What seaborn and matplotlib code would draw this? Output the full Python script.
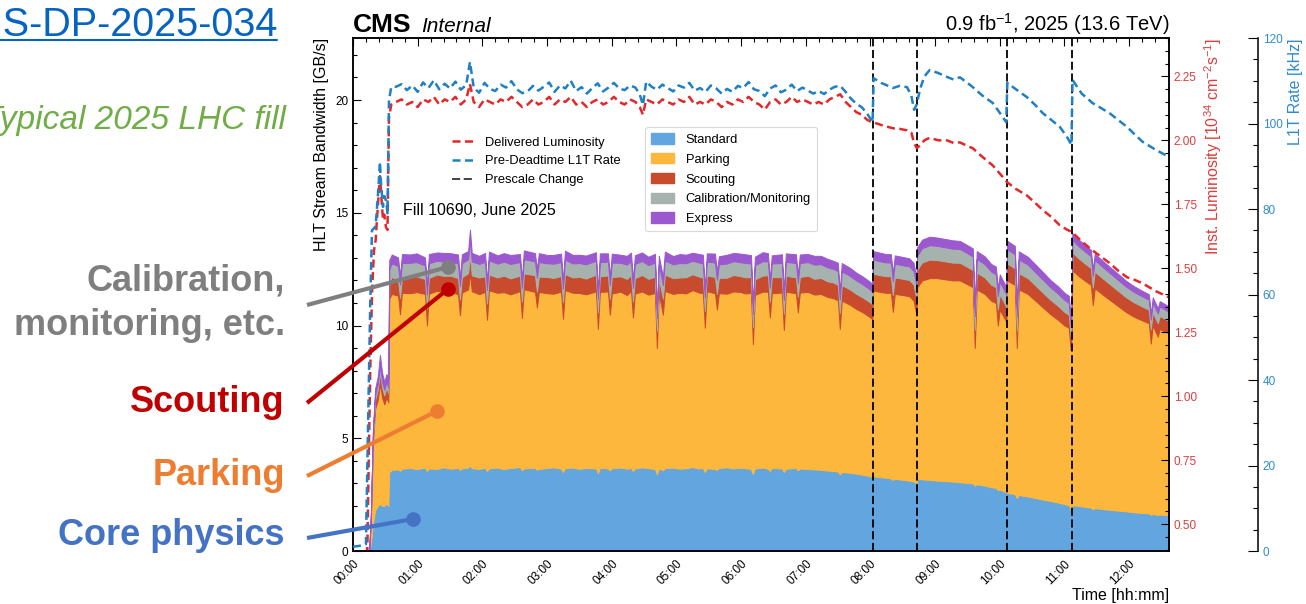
import numpy as np
import pandas as pd
import matplotlib
matplotlib.use("Agg")
import matplotlib.pyplot as plt
from matplotlib.lines import Line2D
from matplotlib.patches import Patch
from matplotlib.ticker import MultipleLocator, FormatStrFormatter
import seaborn as sns

# ---------------- data: HLT stream bandwidth per stream [GB/s] ----------------
# sample times in minutes since the start of the fill
stack_min = [
    0, 15, 16.5, 18.5, 20.5, 23, 25, 27, 29, 31, 32.8, 33.6, 36,
    41.8, 43.6, 45.4, 53, 59, 66.8, 68.6, 70.4, 78, 84,
    90, 97.4, 99.2, 101, 106.8, 108.5, 110.2, 117, 122.5, 124.3,
    126.1, 134, 140, 146, 154.9, 156.7, 158.5, 168.8, 170.6, 172.4,
    180, 186, 193, 194.8, 196.6, 204, 210, 216, 225.4, 227.2,
    229, 236.5, 238.3, 240.1, 248, 254, 257.9, 259.7, 261.5, 268,
    274, 280.1, 281.9, 283.7, 287.5, 289.3, 297, 303, 309, 315,
    321, 324.6, 326.4, 328.2, 335.8, 337.6, 339.4, 347, 353, 359,
    364, 369.2, 371, 372.8, 380, 384.9, 386.7, 388.5, 397.9, 399.7,
    401.5, 410.9, 412.7, 414.5, 422, 428, 434, 440, 446, 449.8,
    451.6, 453.4, 461, 467, 473, 479.5, 481.8,
    482.6, 488, 494, 499, 500.8, 502.6, 510, 516, 520, 522.8,
    523.4, 528, 535, 542, 549, 556, 563, 569, 575, 576.8, 578.6, 586, 592, 596.4, 598.2, 600, 606.2,
    606.8, 614, 615.8, 617.6, 626, 633, 640, 647, 654, 660, 664, 665.8, 666.7,
    667.3, 673, 680, 684.5, 686.3, 688.1, 696, 703, 710, 717, 724, 731, 738.3, 740.1, 741.9, 746.6, 748.4, 756.8,
]
standard = [
    0, 0, 0.3, 1.2, 1.8, 2.0, 2.1, 2.0, 2.0, 2.1, 2.0, 3.5, 3.6,
    3.62, 3.55, 3.65, 3.68, 3.63, 3.70, 3.55, 3.66, 3.64, 3.71,
    3.65, 3.68, 3.60, 3.66, 3.70, 3.80, 3.67, 3.64, 3.69, 3.55,
    3.66, 3.70, 3.63, 3.68, 3.72, 3.58, 3.66, 3.69, 3.60, 3.64,
    3.68, 3.71, 3.65, 3.50, 3.67, 3.70, 3.64, 3.68, 3.66, 3.45,
    3.69, 3.66, 3.58, 3.67, 3.70, 3.65, 3.68, 3.55, 3.66, 3.71,
    3.67, 3.64, 3.40, 3.66, 3.58, 3.68, 3.70, 3.65, 3.67, 3.72,
    3.66, 3.68, 3.50, 3.67, 3.63, 3.60, 3.68, 3.71, 3.66, 3.69,
    3.67, 3.64, 3.42, 3.66, 3.70, 3.65, 3.55, 3.68, 3.66, 3.50,
    3.65, 3.68, 3.58, 3.66, 3.64, 3.62, 3.60, 3.57, 3.55, 3.52,
    3.40, 3.50, 3.47, 3.43, 3.38, 3.32, 3.28,
    3.32, 3.28, 3.25, 3.22, 3.15, 3.20, 3.16, 3.12, 3.08, 3.02,
    3.20, 3.18, 3.15, 3.12, 3.10, 3.08, 3.05, 3.02, 3.00, 2.90, 2.96, 2.90, 2.83, 2.80, 2.70, 2.72, 2.60,
    2.58, 2.52, 2.35, 2.48, 2.42, 2.35, 2.28, 2.22, 2.15, 2.08, 2.03, 1.85, 1.95,
    2.03, 2.00, 1.95, 1.93, 1.85, 1.90, 1.86, 1.82, 1.79, 1.76, 1.72, 1.69, 1.67, 1.60, 1.64, 1.60, 1.62, 1.58,
]
parking = [
    0, 0, 1.0, 3.6, 4.5, 4.7, 5.3, 4.8, 4.5, 4.7, 4.6, 7.7, 7.8,
    7.70, 6.95, 7.80, 7.75, 7.85, 7.70, 6.45, 7.75, 7.90, 7.80,
    7.85, 7.70, 6.85, 7.80, 7.90, 8.50, 7.85, 7.75, 7.80, 6.70,
    7.90, 7.75, 7.85, 7.70, 7.80, 6.75, 7.95, 7.80, 7.20, 7.85,
    7.75, 7.70, 7.85, 6.80, 7.90, 7.75, 7.80, 7.70, 7.85, 6.40,
    7.80, 7.85, 6.90, 7.75, 7.80, 7.70, 7.85, 6.80, 7.75, 7.80,
    7.70, 7.80, 5.60, 7.75, 6.90, 7.85, 7.70, 7.80, 7.75, 7.85,
    7.80, 7.75, 6.40, 7.85, 7.80, 7.10, 7.75, 7.70, 7.85, 7.80,
    7.75, 7.80, 5.75, 7.70, 7.80, 7.85, 6.80, 7.75, 7.80, 6.30,
    7.85, 7.75, 7.00, 7.80, 7.85, 7.75, 7.80, 7.70, 7.65, 7.60,
    6.45, 7.60, 7.45, 7.30, 7.20, 7.05, 7.00,
    8.23, 8.22, 8.20, 8.23, 7.45, 8.20, 8.19, 8.18, 8.02, 7.43,
    8.50, 8.82, 8.95, 8.98, 8.95, 8.92, 8.95, 8.83, 8.70, 6.10, 8.64, 8.50, 8.27, 8.20, 7.30, 7.98, 7.55,
    9.42, 9.28, 6.65, 9.12, 8.98, 8.75, 8.52, 8.28, 8.10, 7.92, 7.87, 7.05, 7.55,
    10.42, 10.20, 10.00, 9.87, 9.05, 9.75, 9.49, 9.28, 9.06, 8.84, 8.68, 8.56, 8.43, 7.60, 8.36, 7.90, 8.23, 8.07,
]
scouting = [
    0, 0, 0.1, 0.3, 0.4, 0.45, 0.5, 0.45, 0.4, 0.45, 0.4, 0.7, 0.75,
    0.70, 0.72, 0.68, 0.74, 0.70, 0.66, 0.75, 0.70, 0.72, 0.69,
    0.71, 0.73, 0.70, 0.68, 0.72, 0.80, 0.70, 0.74, 0.69, 0.72,
    0.70, 0.68, 0.73, 0.71, 0.69, 0.72, 0.70, 0.74, 0.70, 0.68,
    0.72, 0.70, 0.69, 0.73, 0.71, 0.68, 0.72, 0.70, 0.74, 0.72,
    0.69, 0.71, 0.70, 0.73, 0.68, 0.72, 0.70, 0.71, 0.69, 0.73,
    0.70, 0.72, 0.75, 0.69, 0.71, 0.73, 0.70, 0.68, 0.72, 0.70,
    0.71, 0.69, 0.74, 0.70, 0.72, 0.70, 0.68, 0.71, 0.73, 0.70,
    0.72, 0.70, 0.76, 0.69, 0.71, 0.73, 0.70, 0.72, 0.68, 0.72,
    0.70, 0.71, 0.70, 0.69, 0.72, 0.70, 0.71, 0.69, 0.70, 0.68,
    0.70, 0.69, 0.68, 0.67, 0.66, 0.66, 0.65,
    0.75, 0.74, 0.74, 0.73, 0.75, 0.73, 0.72, 0.72, 0.72, 0.70,
    0.78, 0.80, 0.82, 0.80, 0.80, 0.79, 0.78, 0.77, 0.76, 0.80, 0.75, 0.73, 0.71, 0.70, 0.72, 0.68, 0.66,
    0.75, 0.74, 0.78, 0.72, 0.70, 0.68, 0.66, 0.64, 0.62, 0.60, 0.58, 0.62, 0.56,
    0.80, 0.78, 0.76, 0.75, 0.78, 0.74, 0.72, 0.70, 0.68, 0.66, 0.64, 0.62, 0.60, 0.62, 0.58, 0.60, 0.57, 0.55,
]
calibration = [
    0, 0, 0.05, 0.15, 0.2, 0.25, 0.3, 0.25, 0.25, 0.25, 0.25, 0.6, 0.6,
    0.62, 0.60, 0.64, 0.61, 0.63, 0.60, 0.62, 0.65, 0.61, 0.63,
    0.62, 0.64, 0.60, 0.63, 0.61, 0.70, 0.62, 0.60, 0.64, 0.61,
    0.63, 0.61, 0.62, 0.64, 0.60, 0.62, 0.63, 0.61, 0.62, 0.64,
    0.61, 0.63, 0.62, 0.60, 0.64, 0.62, 0.61, 0.63, 0.62, 0.60,
    0.63, 0.61, 0.62, 0.64, 0.60, 0.63, 0.62, 0.61, 0.63, 0.62,
    0.61, 0.63, 0.58, 0.62, 0.60, 0.63, 0.61, 0.64, 0.62, 0.60,
    0.62, 0.63, 0.60, 0.61, 0.64, 0.62, 0.60, 0.63, 0.61, 0.62,
    0.63, 0.61, 0.58, 0.62, 0.64, 0.61, 0.62, 0.60, 0.63, 0.61,
    0.62, 0.63, 0.61, 0.62, 0.60, 0.63, 0.61, 0.62, 0.60, 0.61,
    0.60, 0.61, 0.60, 0.59, 0.58, 0.57, 0.57,
    0.62, 0.62, 0.61, 0.61, 0.60, 0.61, 0.60, 0.60, 0.60, 0.58,
    0.62, 0.63, 0.64, 0.63, 0.62, 0.62, 0.61, 0.61, 0.60, 0.62, 0.60, 0.59, 0.58, 0.57, 0.58, 0.56, 0.55,
    0.63, 0.62, 0.62, 0.61, 0.60, 0.58, 0.57, 0.55, 0.54, 0.53, 0.52, 0.52, 0.50,
    0.55, 0.54, 0.53, 0.52, 0.52, 0.51, 0.50, 0.49, 0.48, 0.47, 0.46, 0.45, 0.44, 0.44, 0.43, 0.43, 0.42, 0.41,
]
express = [
    0, 0, 0.05, 0.2, 0.3, 0.35, 0.5, 0.4, 0.35, 0.35, 0.35, 0.4, 0.4,
    0.38, 0.36, 0.40, 0.37, 0.39, 0.36, 0.38, 0.41, 0.37, 0.39,
    0.38, 0.40, 0.36, 0.39, 0.37, 0.45, 0.38, 0.36, 0.40, 0.37,
    0.39, 0.37, 0.38, 0.40, 0.36, 0.38, 0.39, 0.37, 0.38, 0.40,
    0.37, 0.39, 0.38, 0.36, 0.40, 0.38, 0.37, 0.39, 0.38, 0.36,
    0.39, 0.37, 0.38, 0.40, 0.36, 0.39, 0.38, 0.37, 0.39, 0.38,
    0.37, 0.39, 0.35, 0.38, 0.36, 0.39, 0.37, 0.40, 0.38, 0.36,
    0.38, 0.39, 0.36, 0.37, 0.40, 0.38, 0.36, 0.39, 0.37, 0.38,
    0.39, 0.37, 0.35, 0.38, 0.40, 0.37, 0.38, 0.36, 0.39, 0.37,
    0.38, 0.39, 0.37, 0.38, 0.36, 0.39, 0.37, 0.38, 0.36, 0.37,
    0.36, 0.37, 0.36, 0.35, 0.35, 0.34, 0.34,
    0.38, 0.38, 0.37, 0.37, 0.36, 0.37, 0.37, 0.36, 0.36, 0.35,
    0.38, 0.38, 0.38, 0.37, 0.37, 0.37, 0.36, 0.36, 0.36, 0.38, 0.35, 0.35, 0.34, 0.34, 0.35, 0.33, 0.33,
    0.38, 0.37, 0.37, 0.36, 0.35, 0.35, 0.34, 0.33, 0.33, 0.32, 0.32, 0.32, 0.30,
    0.30, 0.30, 0.29, 0.29, 0.29, 0.28, 0.28, 0.27, 0.27, 0.26, 0.26, 0.25, 0.25, 0.25, 0.24, 0.24, 0.24, 0.24,
]

# ---------------- data: delivered luminosity and L1T rate ----------------
line_min = [
    0, 6, 12, 14, 16, 17.6, 19.5, 21, 23, 25, 26, 27.8, 29, 30.6, 32, 33.4, 35.5,
    40, 45, 50, 55, 60, 65, 70, 75, 80, 85,
    90, 95, 100, 105, 108.5, 112, 117, 122, 127, 132,
    137, 142, 147, 152, 157, 162, 167, 172, 177, 182,
    187, 192, 197, 202, 207, 212, 217, 222, 227, 232,
    237, 242, 247, 252, 257, 262, 266, 269, 272, 277,
    282, 287, 292, 297, 302, 307, 312, 317, 322, 327,
    332, 337, 342, 347, 352, 357, 362, 367, 372, 377,
    382, 387, 392, 397, 402, 407, 412, 417, 422, 427,
    432, 437, 442, 447, 452, 457, 462, 467, 472, 477,
    482, 483, 490, 501, 507, 514, 518, 520.5, 523, 526,
    530, 535, 543, 551, 557, 563, 569, 575, 584, 593.5,
    600, 606, 607, 615, 625, 633, 640, 648, 655.7, 662,
    666.5, 667.5, 676, 686, 694, 702, 710, 718, 725, 732.6,
    745, 756.8,
]
lumi = [  # 1e34 cm^-2 s^-1
    0.00, 0.00, 0.02, 0.60, 1.10, 1.40, 1.57, 1.61, 1.74, 1.86, 1.80, 1.69, 1.71, 1.66, 1.65, 2.09, 2.14,
    2.15, 2.16, 2.14, 2.15, 2.13, 2.16, 2.15, 2.17, 2.14, 2.16,
    2.15, 2.17, 2.14, 2.16, 2.22, 2.15, 2.13, 2.16, 2.15, 2.14,
    2.16, 2.15, 2.17, 2.15, 2.13, 2.14, 2.16, 2.14, 2.15, 2.17,
    2.14, 2.16, 2.15, 2.17, 2.14, 2.15, 2.13, 2.15, 2.16, 2.14,
    2.15, 2.17, 2.15, 2.14, 2.16, 2.15, 2.13, 2.10, 2.16, 2.15,
    2.14, 2.16, 2.15, 2.14, 2.16, 2.15, 2.17, 2.14, 2.15, 2.14,
    2.16, 2.15, 2.13, 2.15, 2.14, 2.16, 2.15, 2.17, 2.15, 2.14,
    2.12, 2.15, 2.16, 2.14, 2.15, 2.17, 2.15, 2.16, 2.15, 2.14,
    2.15, 2.14, 2.16, 2.17, 2.18, 2.15, 2.13, 2.11, 2.10, 2.08,
    2.07, 2.07, 2.06, 2.047, 2.045, 2.039, 2.03, 1.99, 1.97, 1.98,
    2.00, 2.01, 2.00, 2.00, 1.99, 1.992, 1.98, 1.969, 1.935, 1.902,
    1.87, 1.84, 1.836, 1.81, 1.785, 1.755, 1.727, 1.70, 1.668, 1.652,
    1.642, 1.64, 1.605, 1.570, 1.545, 1.520, 1.49, 1.465, 1.455, 1.441,
    1.41, 1.387,
]
l1t_rate = [  # kHz
    1.0, 1.2, 1.6, 30, 58, 75, 75.5, 76, 82.8, 91, 86, 80.5, 83, 82, 79, 105.5, 108.5,
    108.6, 109.2, 107.8, 108.9, 107.4, 109.6, 108.3, 110.1, 108.0, 109.3,
    108.2, 109.8, 107.9, 109.0, 114.4, 108.4, 107.2, 109.5, 108.1, 107.6,
    109.1, 108.4, 109.9, 108.0, 107.1, 107.5, 108.8, 107.7, 108.6, 109.6,
    107.4, 108.9, 108.2, 110.0, 107.6, 108.5, 107.0, 108.3, 109.4, 107.5,
    108.4, 109.5, 108.2, 107.8, 108.9, 108.4, 106.8, 104.3, 109.8, 108.6,
    107.9, 109.1, 108.3, 107.5, 108.9, 108.4, 109.5, 107.7, 108.3, 107.4,
    108.9, 108.2, 107.0, 108.1, 107.4, 108.8, 108.3, 109.7, 108.0, 107.6,
    106.4, 108.2, 108.9, 107.3, 107.9, 109.1, 107.6, 108.4, 107.7, 107.0,
    107.6, 106.9, 107.9, 108.6, 108.8, 107.4, 105.8, 104.6, 103.8, 102.3,
    100.3, 110.6, 109.5, 108.3, 108.8, 108.5, 106.5, 103.2, 104.5, 108.0,
    111.0, 112.5, 111.8, 110.9, 110.3, 110.8, 109.7, 108.5, 106.5, 104.8,
    102.5, 100.3, 109.5, 108.0, 106.2, 104.3, 102.4, 100.8, 99.2, 97.0,
    95.0, 110.2, 107.0, 104.8, 103.6, 102.4, 100.8, 99.2, 97.5, 95.7,
    93.8, 92.2,
]

prescale_min = [482.4, 523.1, 606.5, 666.8]
hour_ticks = list(range(13))
hour_labels = [f"{h:02d}:00" for h in hour_ticks]
stream_names = ["Standard", "Parking", "Scouting", "Calibration/Monitoring", "Express"]

# ---------------- style ----------------
sns.set_theme(style="ticks", rc={
    "axes.edgecolor": "black", "text.color": "black", "axes.labelcolor": "black",
    "xtick.color": "black", "ytick.color": "black",
})
plt.rcParams["font.family"] = ["Liberation Sans", "DejaVu Sans"]
plt.rcParams["mathtext.fontset"] = "custom"
plt.rcParams["mathtext.rm"] = "Liberation Sans"
plt.rcParams["mathtext.it"] = "Liberation Sans:italic"
plt.rcParams["mathtext.bf"] = "Liberation Sans:bold"

C_STREAMS = ["#63a5df", "#fdb73c", "#c94b2d", "#a6b2ae", "#9b58cf"]
C_LUMI = "#e2282b"
C_L1T = "#1f80c3"
C_LUMI_TXT = "#e03c3c"
C_L1T_TXT = "#2f8ad0"

W, H = 1306, 604
L, R, T, B = 353, 1169, 38, 551
fig = plt.figure(figsize=(W / 100, H / 100), dpi=100)
ax = fig.add_axes([L / W, 1 - B / H, (R - L) / W, (B - T) / H])

# ---------------- stacked bandwidth ----------------
stack_h = np.array(stack_min) / 60.0
polys = ax.stackplot(stack_h, standard, parking, scouting, calibration, express,
                     colors=C_STREAMS, linewidth=0.7, zorder=1)
for p in polys:
    p.set_edgecolor(p.get_facecolor())

for t in prescale_min:
    ax.axvline(t / 60.0, color="black", lw=1.3, ls=(0, (4.5, 2.0)), zorder=3)

ax.set_xlim(0, 757 / 60.0)
ax.set_ylim(0, 22.75)
ax.set_xticks(hour_ticks)
ax.set_xticklabels(hour_labels)
ax.xaxis.set_minor_locator(MultipleLocator(0.2))
ax.yaxis.set_major_locator(MultipleLocator(5))
ax.yaxis.set_minor_locator(MultipleLocator(1))
ax.tick_params(axis="both", which="both", direction="in", top=True, right=False,
               width=0.8, labelsize=8.5)
ax.tick_params(axis="both", which="major", length=6)
ax.tick_params(axis="both", which="minor", length=3)
ax.tick_params(axis="x", pad=5)
for lab in ax.get_xticklabels():
    lab.set_rotation(45)
    lab.set_ha("right")
    lab.set_va("top")
    lab.set_rotation_mode("anchor")
for s in ax.spines.values():
    s.set_linewidth(1.1)
ax.set_ylabel("HLT Stream Bandwidth [GB/s]", loc="top", fontsize=11.5)
ax.set_xlabel("Time [hh:mm]", loc="right", fontsize=11.5)
ax.xaxis.set_label_coords(1.0, (B - 588) / (B - T))

# ---------------- luminosity axis ----------------
ax2 = ax.twinx()
df_lines = pd.DataFrame({"hours": np.array(line_min) / 60.0, "lumi": lumi, "l1t": l1t_rate})
sns.lineplot(data=df_lines, x="hours", y="lumi", ax=ax2, color=C_LUMI, linewidth=1.8,
             estimator=None, sort=False, legend=False)
ax2.lines[-1].set_linestyle((0, (3.2, 1.8)))
ax2.set_ylim(0.395, 2.40)
ax2.yaxis.set_major_locator(MultipleLocator(0.25))
ax2.yaxis.set_minor_locator(MultipleLocator(0.05))
ax2.yaxis.set_major_formatter(FormatStrFormatter("%.2f"))
ax2.tick_params(axis="y", which="both", direction="in", labelcolor=C_LUMI_TXT,
                color="black", width=0.8, labelsize=8.5)
ax2.tick_params(axis="y", which="major", length=6)
ax2.tick_params(axis="y", which="minor", length=3)
ax2.set_xlabel("")
ax2.set_ylabel("Inst. Luminosity [10$^{34}$ cm$^{-2}$s$^{-1}$]", loc="top",
               fontsize=11.5, color=C_LUMI_TXT)
for s in ax2.spines.values():
    s.set_linewidth(1.1)

# ---------------- L1T rate axis ----------------
ax3 = ax.twinx()
sns.lineplot(data=df_lines, x="hours", y="l1t", ax=ax3, color=C_L1T, linewidth=1.8,
             estimator=None, sort=False, legend=False)
ax3.lines[-1].set_linestyle((0, (3.2, 1.8)))
ax3.set_ylim(0, 120)
ax3.spines["right"].set_position(("axes", (1258 - L) / (R - L)))
for k in ("left", "top", "bottom"):
    ax3.spines[k].set_visible(False)
ax3.spines["right"].set_linewidth(1.1)
ax3.yaxis.set_major_locator(MultipleLocator(20))
ax3.yaxis.set_minor_locator(MultipleLocator(5))
ax3.tick_params(axis="y", which="both", direction="in", labelcolor=C_L1T_TXT,
                color="black", width=0.8, labelsize=8.5)
ax3.tick_params(axis="y", which="major", length=7)
ax3.tick_params(axis="y", which="minor", length=3.5)
ax3.set_xlabel("")
ax3.set_ylabel("L1T Rate [kHz]", loc="top", fontsize=11.5, color=C_L1T_TXT)
ax3.set_xlim(0, 757 / 60.0)

# ---------------- legends and labels ----------------
line_handles = [
    Line2D([], [], color=C_LUMI, lw=1.8, ls=(0, (3.2, 1.8))),
    Line2D([], [], color=C_L1T, lw=1.8, ls=(0, (3.2, 1.8))),
    Line2D([], [], color="#333333", lw=1.3, ls=(0, (4.5, 2.0))),
]
leg1 = ax3.legend(line_handles, ["Delivered Luminosity", "Pre-Deadtime L1T Rate", "Prescale Change"],
                  loc="upper left", bbox_to_anchor=((447 - L) / (R - L), (B - 131.5) / (B - T)),
                  borderaxespad=0, frameon=False, fontsize=9.3, handlelength=1.6,
                  handletextpad=0.95, labelspacing=0.52, borderpad=0.4)
ax3.add_artist(leg1)
patch_handles = [Patch(facecolor=c, edgecolor=c) for c in C_STREAMS]
leg2 = ax3.legend(patch_handles, stream_names, loc="upper left",
                  bbox_to_anchor=((645 - L) / (R - L), (B - 127) / (B - T)),
                  borderaxespad=0, frameon=True, fancybox=True, fontsize=9.3,
                  handlelength=1.72, handleheight=0.85, handletextpad=0.93,
                  labelspacing=0.55, borderpad=0.5, framealpha=1)
leg2.get_frame().set_edgecolor("#d9d9d9")
leg2.get_frame().set_linewidth(0.8)

ax.text((403 - L) / (R - L), (B - 210) / (B - T), "Fill 10690, June 2025",
        transform=ax.transAxes, fontsize=11.5, va="center", ha="left")
ax.text(0.0, 1 + 6 / (B - T), "CMS", transform=ax.transAxes, fontsize=19,
        fontweight="bold", va="baseline", ha="left")
ax.text((421 - L) / (R - L), 1 + 6 / (B - T), "Internal", transform=ax.transAxes,
        fontsize=15, fontstyle="italic", va="baseline", ha="left")
ax.text(1.0, 1 + 7 / (B - T), "0.9 fb$^{-1}$, 2025 (13.6 TeV)", transform=ax.transAxes,
        fontsize=14.5, va="baseline", ha="right")

# ---------------- slide annotations ----------------
def fx(x):
    return x / W


def fy(y):
    return 1 - y / H


fig.text(fx(277), fy(36), "CMS-DP-2025-034", color="#0563c1", fontsize=28.5,
         ha="right", va="baseline")
fig.add_artist(Line2D([0, fx(277)], [fy(40), fy(40)], color="#0563c1", lw=1.5,
                      transform=fig.transFigure))
fig.text(fx(286), fy(129), "Typical 2025 LHC fill", color="#70ad47", fontsize=24,
         fontstyle="italic", ha="right", va="baseline")

notes = [
    ("Calibration,", "#7f7f7f", 290),
    ("monitoring, etc.", "#7f7f7f", 335),
    ("Scouting", "#c00000", 412),
    ("Parking", "#ed7d31", 485),
    ("Core physics", "#4472c4", 545),
]
for txt, col, yb in notes:
    fig.text(fx(285), fy(yb), txt, color=col, fontsize=26, fontweight="bold",
             ha="right", va="baseline")

leaders = [
    ("#7f7f7f", (307, 305), (448, 267)),
    ("#c00000", (307, 403), (448, 289)),
    ("#ed7d31", (307, 476), (437, 411)),
    ("#4472c4", (307, 538), (413, 519)),
]
for col, (x0, y0), (x1, y1) in leaders:
    fig.add_artist(Line2D([fx(x0), fx(x1)], [fy(y0), fy(y1)], color=col, lw=3,
                          solid_capstyle="butt", transform=fig.transFigure, zorder=10))
    fig.add_artist(Line2D([fx(x1)], [fy(y1)], marker="o", markersize=9.5, color=col,
                          lw=0, transform=fig.transFigure, zorder=11))

fig.savefig("out.png", dpi=100)
